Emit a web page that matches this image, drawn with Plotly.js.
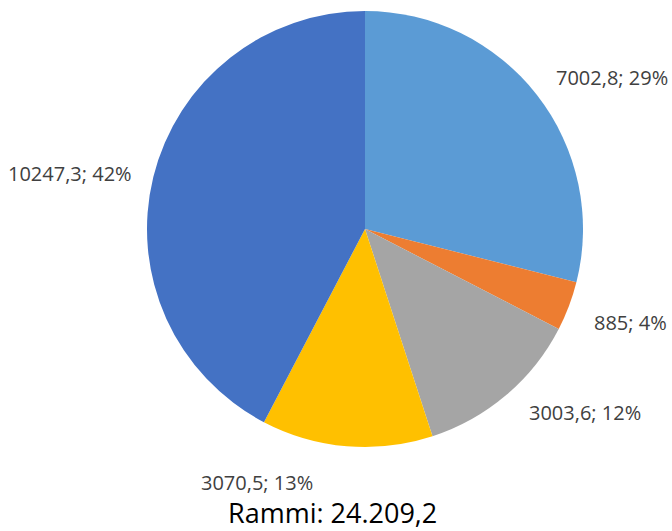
<!DOCTYPE html>
<html>
<head>
<meta charset="utf-8">
<script src="https://cdn.plot.ly/plotly-3.0.1.min.js"></script>
<style>html,body{margin:0;padding:0;background:#fff;}#chart{width:672px;height:531px;}</style>
</head>
<body>
<div id="chart"></div>
<script>
const categories = ["A", "B", "C", "D", "E"];
const values = [7002.8, 885, 3003.6, 3070.5, 10247.3];
const valueLabels = ["7002,8", "885", "3003,6", "3070,5", "10247,3"];
const colors = ["#5B9BD5", "#ED7D31", "#A5A5A5", "#FFC000", "#4472C4"];
const totalLabel = "Rammi: 24.209,2";
// label anchor positions (pixels)
const labelX = [612, 630, 585, 257, 70];
const labelY = [78, 322, 412, 482, 173];

const total = values.reduce((a, b) => a + b, 0);
const texts = values.map((v, i) => valueLabels[i] + "; " + Math.round(v / total * 100) + "%");

const W = 672, H = 531;
const cx = 365, cy = 229, r = 218;

const data = [{
  type: "pie",
  labels: categories,
  values: values,
  sort: false,
  direction: "clockwise",
  rotation: 0,
  marker: {colors: colors, line: {width: 0}},
  textinfo: "none",
  hoverinfo: "none",
  showlegend: false,
  domain: {x: [(cx - r) / W, (cx + r) / W], y: [1 - (cy + r) / H, 1 - (cy - r) / H]}
}];

const annotations = texts.map((t, i) => ({
  text: t, x: labelX[i] / W, y: 1 - labelY[i] / H, xref: "paper", yref: "paper",
  xanchor: "center", yanchor: "middle", showarrow: false,
  font: {family: "Open Sans, sans-serif", size: 20, color: "#404040"}
}));
annotations.push({
  text: totalLabel, x: 332 / W, y: 1 - 512 / H, xref: "paper", yref: "paper",
  xanchor: "center", yanchor: "middle", showarrow: false,
  font: {family: "Open Sans, sans-serif", size: 27, color: "#000000"}
});

const layout = {
  width: W, height: H,
  margin: {l: 0, r: 0, t: 0, b: 0},
  paper_bgcolor: "#ffffff",
  annotations: annotations
};
Plotly.newPlot("chart", data, layout, {displayModeBar: false, staticPlot: true});
</script>
</body>
</html>
